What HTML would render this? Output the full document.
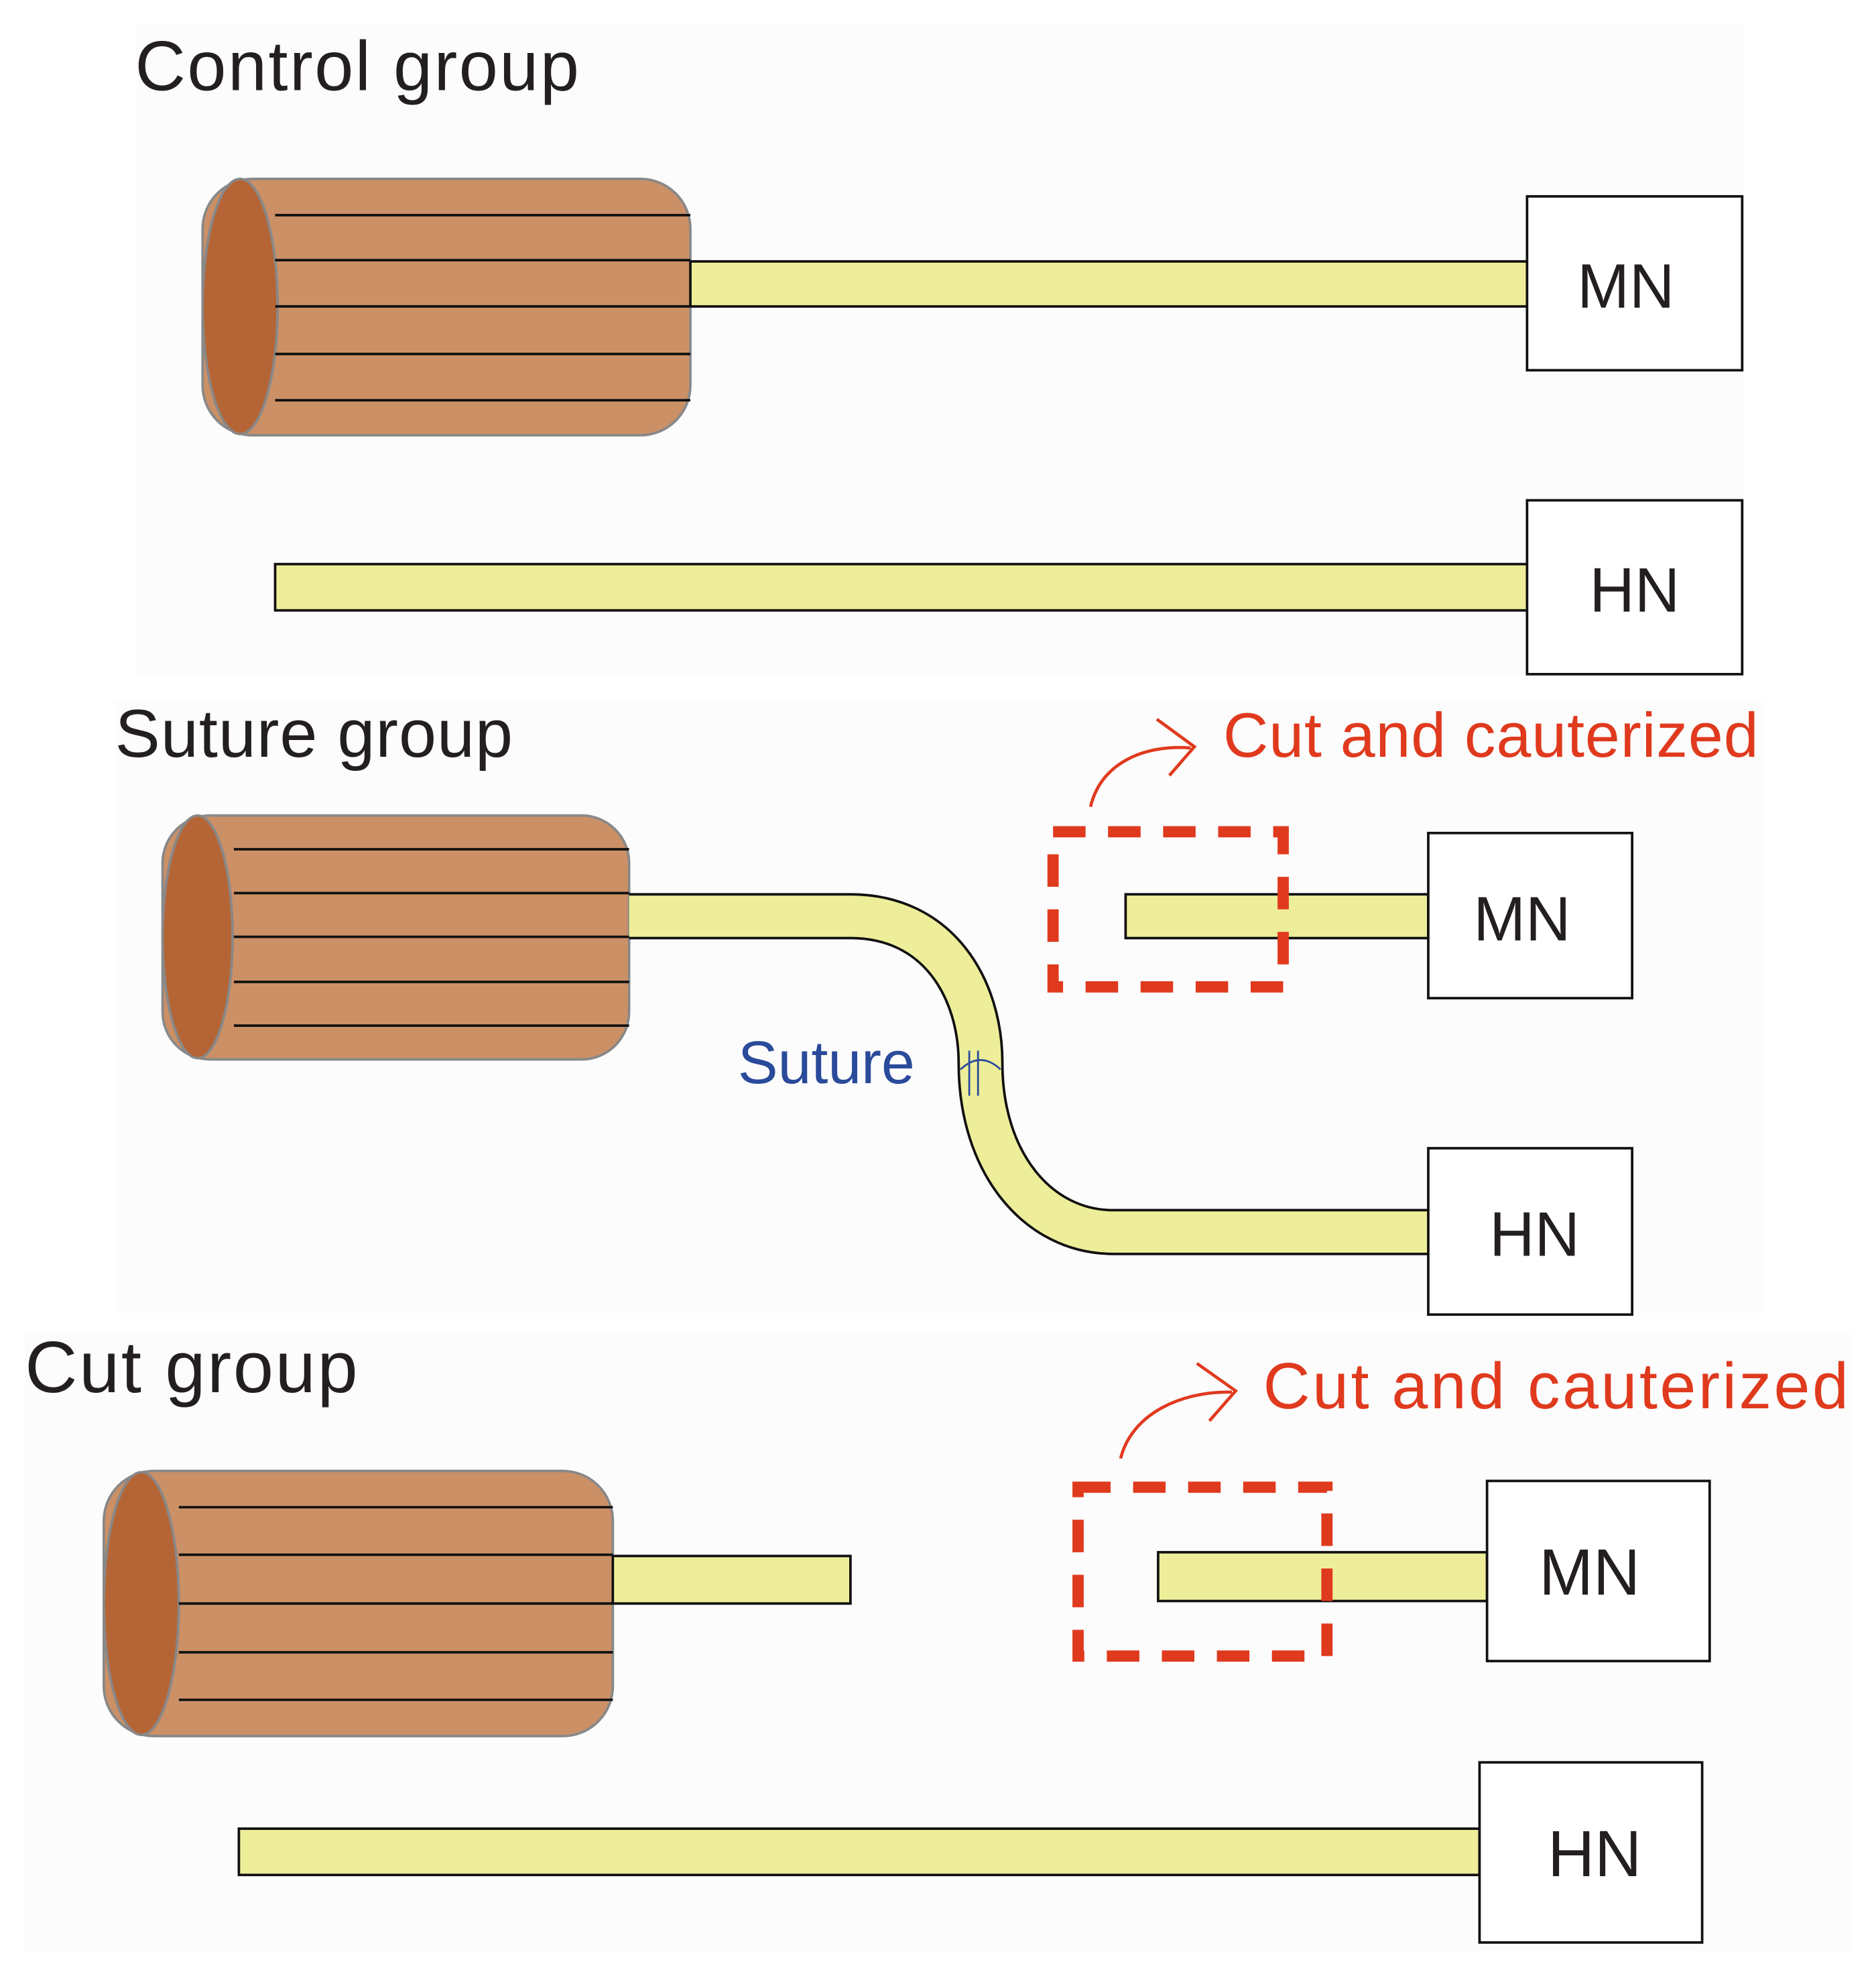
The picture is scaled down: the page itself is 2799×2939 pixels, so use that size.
<!DOCTYPE html>
<html><head><style>html,body{margin:0;padding:0;background:#fff}svg{display:block}</style></head>
<body>
<svg width="2799" height="2939" viewBox="0 0 1500 1575" preserveAspectRatio="none" xmlns="http://www.w3.org/2000/svg" font-family="Liberation Sans, sans-serif">
<rect x="0" y="0" width="1500" height="1575" fill="#fff"/>
<rect x="108" y="20" width="1287" height="520" fill="#fcfcfc"/>
<rect x="92" y="560" width="1318" height="490" fill="#fcfcfc"/>
<rect x="20" y="1065" width="1460" height="495" fill="#fcfcfc"/>

<g stroke="#111" stroke-width="2">
<!-- Control -->
<text x="108" y="72" font-size="56" fill="#231f20" stroke="none" textLength="355">Control group</text>
<rect x="162" y="143" width="390" height="205" rx="40" fill="#cc9066" stroke="#888"/>
<ellipse cx="192" cy="245" rx="30" ry="102" fill="#b56535" stroke="#888"/>
<path d="M220 172H552M220 208H552M220 245H552M220 283H552M220 320H552" fill="none"/>
<rect x="552" y="209" width="669" height="36" fill="#eeee9a"/>
<rect x="1221" y="157" width="172" height="139" fill="#fff"/>
<text x="1300" y="246" font-size="50" text-anchor="middle" fill="#231f20" stroke="none">MN</text>
<rect x="220" y="451" width="1006" height="37" fill="#eeee9a"/>
<rect x="1221" y="400" width="172" height="139" fill="#fff"/>
<text x="1307" y="489" font-size="50" text-anchor="middle" fill="#231f20" stroke="none">HN</text>

<!-- Suture -->
<text x="92" y="605" font-size="54" fill="#231f20" stroke="none" textLength="318">Suture group</text>
<rect x="130" y="652" width="373" height="195" rx="38" fill="#cc9066" stroke="#888"/>
<ellipse cx="158" cy="749" rx="28" ry="97" fill="#b56535" stroke="#888"/>
<path d="M187 679H503M187 714H503M187 749H503M187 785H503M187 820H503" fill="none"/>
<path d="M503 732.5H680C750 732.5 784 790 784 850C784 930 830 985 890 985H1142" fill="none" stroke="#111" stroke-width="37"/>
<path d="M503 732.5H680C750 732.5 784 790 784 850C784 930 830 985 890 985H1142" fill="none" stroke="#eeee9a" stroke-width="33"/>
<path d="M775 840V876M782 840V876M768 855Q784 840 800 855" fill="none" stroke="#2a4a9a" stroke-width="1.5"/>
<text x="590" y="866" font-size="48" fill="#2a4a9a" stroke="none">Suture</text>
<rect x="900" y="715" width="242" height="35" fill="#eeee9a"/>
<rect x="1142" y="666" width="163" height="132" fill="#fff"/>
<text x="1217" y="752" font-size="50" text-anchor="middle" fill="#231f20" stroke="none">MN</text>
<rect x="1142" y="918" width="163" height="133" fill="#fff"/>
<text x="1227" y="1004" font-size="50" text-anchor="middle" fill="#231f20" stroke="none">HN</text>
<rect x="842" y="665" width="184" height="124" fill="none" stroke="#e03a1e" stroke-width="9" stroke-dasharray="26 18"/>
<text x="978" y="605" font-size="50" fill="#e03a1e" stroke="none" textLength="428">Cut and cauterized</text>
<path d="M872 645C880 610 915 595 952 598M925 575L955 597L935 620" fill="none" stroke="#e03a1e" stroke-width="2.5"/>

<!-- Cut -->
<text x="20" y="1113" font-size="58" fill="#231f20" stroke="none" textLength="266">Cut group</text>
<rect x="83" y="1176" width="407" height="212" rx="40" fill="#cc9066" stroke="#888"/>
<ellipse cx="113" cy="1282" rx="30" ry="105" fill="#b56535" stroke="#888"/>
<path d="M143 1205H490M143 1243H490M143 1282H490M143 1321H490M143 1359H490" fill="none"/>
<rect x="490" y="1244" width="190" height="38" fill="#eeee9a"/>
<rect x="926" y="1241" width="263" height="39" fill="#eeee9a"/>
<rect x="1189" y="1184" width="178" height="144" fill="#fff"/>
<text x="1271" y="1275" font-size="52" text-anchor="middle" fill="#231f20" stroke="none">MN</text>
<rect x="191" y="1462" width="992" height="37" fill="#eeee9a"/>
<rect x="1183" y="1409" width="178" height="144" fill="#fff"/>
<text x="1275" y="1500" font-size="52" text-anchor="middle" fill="#231f20" stroke="none">HN</text>
<rect x="862" y="1189" width="199" height="135" fill="none" stroke="#e03a1e" stroke-width="9" stroke-dasharray="26 18"/>
<text x="1010" y="1126" font-size="52" fill="#e03a1e" stroke="none" textLength="468">Cut and cauterized</text>
<path d="M896 1166C905 1130 945 1112 985 1113M957 1090L988 1112L967 1136" fill="none" stroke="#e03a1e" stroke-width="2.5"/>
</g>
</svg>
</body></html>
